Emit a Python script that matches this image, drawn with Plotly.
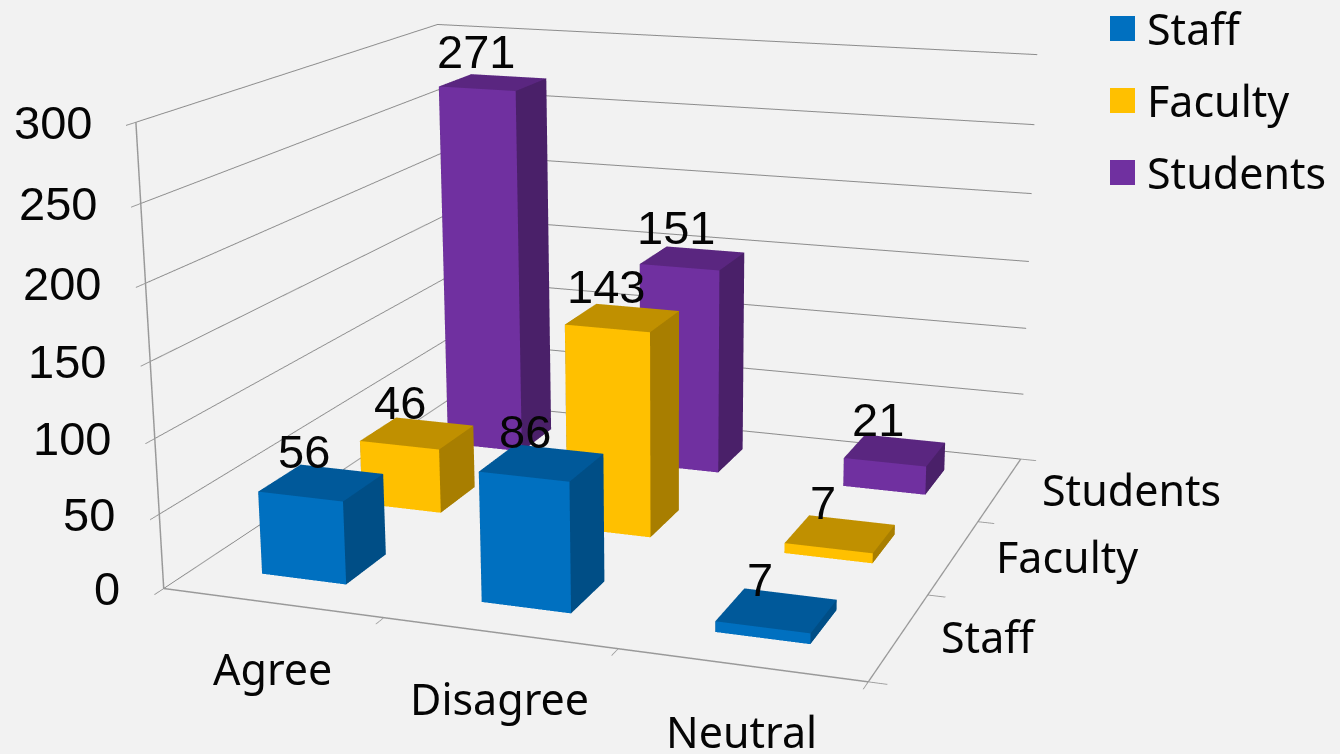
import plotly.graph_objects as go

categories = ["Agree", "Disagree", "Neutral"]
series = ["Staff", "Faculty", "Students"]
staff = [56, 86, 7]
faculty = [46, 143, 7]
students = [271, 151, 21]
values = [staff, faculty, students]
front = ["#0070C0", "#FFC000", "#7030A0"]
top = ["#00599A", "#C09000", "#5A2680"]
side = ["#004E86", "#A87E00", "#4A2069"]
ticks = [0, 50, 100, 150, 200, 250, 300]

W, H, SHIFT = 1340, 2072, 659  # taller canvas = longer lens; the page window shows the part below SHIFT
BW = 0.195
BD = 0.20
XOFF = -0.003
NUM = dict(size=47, color="#050505", family="Liberation Sans")
CAT = dict(size=43, color="#050505", family="Noto Sans")

fig = go.Figure()
scene_notes = []
for s, (name, vals) in enumerate(zip(series, values)):
    X, Y, Z, I, J, K, C = [], [], [], [], [], [], []
    for c, v in enumerate(vals):
        n = len(X)
        for dz in (0, v):
            for dx, dy in ((-BW, -BD), (BW, -BD), (BW, BD), (-BW, BD)):
                X.append(c + XOFF + dx); Y.append(s + dy); Z.append(dz)
        faces = [((0,1,5),front[s]),((0,5,4),front[s]),((1,2,6),side[s]),((1,6,5),side[s]),
                 ((4,5,6),top[s]),((4,6,7),top[s]),((2,3,7),side[s]),((2,7,6),side[s]),
                 ((3,0,4),side[s]),((3,4,7),side[s])]
        for (a,b,d),col in faces:
            I.append(n+a); J.append(n+b); K.append(n+d); C.append(col)
        scene_notes.append(dict(x=c+XOFF, y=s, z=v, text=str(v), showarrow=False, xshift=-17, yshift=31, font=NUM))
    fig.add_trace(go.Mesh3d(x=X,y=Y,z=Z,i=I,j=J,k=K,facecolor=C,name=name,showlegend=False,flatshading=True,
                            hoverinfo="skip",lighting=dict(ambient=1,diffuse=0,specular=0,roughness=1,fresnel=0)))

for c, name in enumerate(categories):
    scene_notes.append(dict(x=c, y=-0.5, z=0, text=name, showarrow=False, yshift=-66, font=CAT))
for s, name in enumerate(series):
    scene_notes.append(dict(x=2.5, y=s, z=0, text=name, showarrow=False, xanchor="left", xshift=40, font=CAT))
for t in ticks:
    scene_notes.append(dict(x=-0.5, y=-0.5, z=t, text=str(t), showarrow=False, xanchor="right", xshift=-42, font=NUM))

def py(p):
    return 1-(p+SHIFT)/H

shapes, notes = [], []
for name, col, yc in zip(series, front, (28.5, 100.5, 172.5)):
    shapes.append(dict(type="rect",xref="paper",yref="paper",x0=1110/W,x1=1135/W,y0=py(yc+12.5),y1=py(yc-12.5),
                       fillcolor=col,line=dict(width=0)))
    notes.append(dict(text=name,xref="paper",yref="paper",x=1145/W,y=py(yc),xanchor="left",yanchor="middle",showarrow=False,
                      font=CAT))

ac = dict(showbackground=False,showspikes=False,showline=True,linecolor="#999999",linewidth=3,ticks="outside",
          tickcolor="#999999",tickwidth=2,ticklen=14,title=dict(text=""),zeroline=False,showticklabels=False)
fig.update_layout(
    width=W,height=H,paper_bgcolor="#f2f2f2",margin=dict(l=0,r=0,t=0,b=0),shapes=shapes,annotations=notes,
    scene=dict(domain=dict(x=[0,1],y=[0,1]),aspectmode="manual",aspectratio=dict(x=1.541,y=1.476,z=1),
        camera=dict(eye=dict(x=1.870,y=-5.090,z=1.398),center=dict(x=0.112,y=-0.003,z=-0.150),
                    up=dict(x=0,y=0,z=1),projection=dict(type="perspective")),
        annotations=scene_notes,
        xaxis=dict(ac,showgrid=False,tickvals=[-0.5,0.5,1.5,2.5],range=[-0.5,2.5]),
        yaxis=dict(ac,showgrid=False,tickvals=[-0.5,0.5,1.5,2.5],range=[-0.5,2.5]),
        zaxis=dict(ac,showgrid=True,gridcolor="#8c8c8c",gridwidth=2,tickvals=ticks,range=[0,300])))
fig.write_html("out.html",config=dict(displayModeBar=False),
    post_script=f"document.documentElement.style.overflow='hidden';document.body.style.margin='-{SHIFT}px 0 0 0';document.body.style.background='#f2f2f2';")
